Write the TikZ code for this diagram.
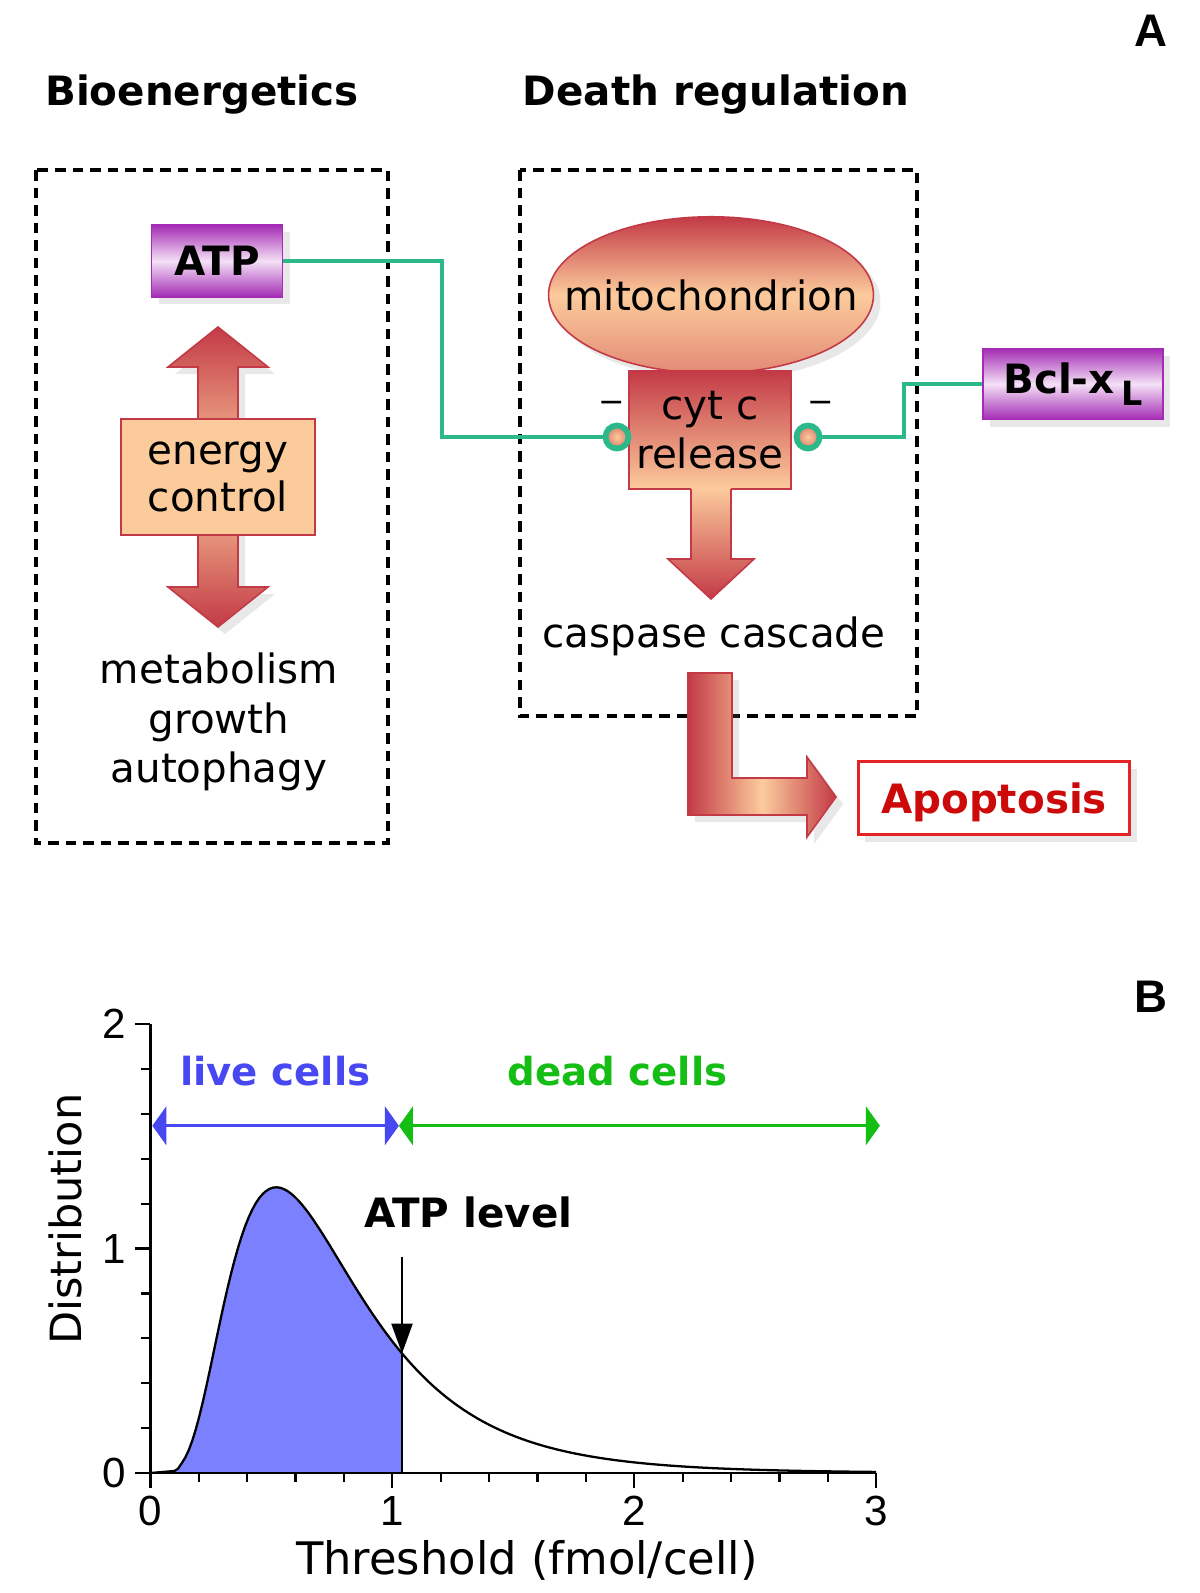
\documentclass[tikz,border=0pt]{standalone}
\usepackage{fontspec}
\setmainfont{DejaVu Sans}
\newfontfamily\plotfont{Liberation Sans}
\usepackage{tikz}
\usetikzlibrary{arrows.meta, positioning, shadows, shapes.geometric}

\definecolor{peach}{HTML}{FCCB9C}
\definecolor{brick}{HTML}{C33A46}
\definecolor{regpurple}{HTML}{A42CB4}
\definecolor{lilac}{HTML}{F4E0F6}
\definecolor{inhibgreen}{HTML}{2CB98A}
\definecolor{livecol}{HTML}{4848F2}
\definecolor{deadcol}{HTML}{14BE14}
\definecolor{livefill}{HTML}{7B80FF}
\definecolor{apored}{HTML}{E42424}
\definecolor{apotext}{HTML}{CC0A0A}

\tikzset{declare function={dens(\s)=exp(-(ln(\s)+0.378)*(ln(\s)+0.378)/0.551)/(\s*1.316);}}

\begin{document}
\begin{tikzpicture}[x=0.02cm, y=-0.02cm, font=\fontsize{23}{28}\selectfont]
    \tikzstyle{panel} = [draw, line width=2.2pt, dash pattern=on 6pt off 4pt]
    \tikzstyle{heading} = [font=\fontsize{23}{28}\selectfont\bfseries, anchor=base]
    \tikzstyle{letter} = [font=\fontsize{26}{30}\selectfont\plotfont\bfseries, anchor=base]
    \tikzstyle{softshadow} = [drop shadow={opacity=0.18, shadow xshift=4pt, shadow yshift=-4pt}]
    \tikzstyle{regulator} = [draw=regpurple, line width=1pt, top color=regpurple, bottom color=regpurple, middle color=lilac, font=\fontsize{23}{28}\selectfont\bfseries, softshadow]
    \tikzstyle{flesh} = [draw=brick, line width=0.9pt]
    \tikzstyle{inhib} = [draw=inhibgreen, line width=2.1pt]
    \tikzstyle{knob} = [circle, draw=inhibgreen, line width=3.3pt, inner color=peach, outer color=brick!55!peach, minimum size=0.46cm, inner sep=0pt]
    \useasboundingbox (0,0) rectangle (1200,1593);

    % panel A
    \node[letter] (panelA) at (1151,46) {A};
    \node[heading] (bioT) at (202,105) {Bioenergetics};
    \node[heading] (deathT) at (716,105) {Death regulation};
    \draw[panel] (36,170) rectangle (388,843);
    \draw[panel] (520,170) rectangle (917,716);

    \node[regulator, minimum width=2.62cm, minimum height=1.44cm] (atp) at (217,261) {ATP};
    \shadedraw[flesh, top color=brick, bottom color=brick, middle color=peach, softshadow] (218,327) -- (268,367) -- (238,367) -- (238,587) -- (268,587) -- (218,627) -- (168,587) -- (198,587) -- (198,367) -- (168,367) -- cycle;
    \node[flesh, fill=peach, minimum width=3.87cm, minimum height=2.32cm, align=center, font=\fontsize{23}{27}\selectfont] (energy) at (218,477) {energy\\control};
    \node[align=center, font=\fontsize{23}{28.3}\selectfont] (fates) at (219,722) {metabolism\\growth\\autophagy};

    \node[ellipse, flesh, top color=brick, bottom color=brick!45!peach, middle color=peach, minimum width=6.5cm, minimum height=3.13cm, inner sep=0pt, softshadow, label=center:{mitochondrion}] (mito) at (711,295) {};
    \node[flesh, top color=brick, bottom color=peach, minimum width=3.25cm, minimum height=2.36cm, align=center, font=\fontsize{23}{28.3}\selectfont] (cytc) at (710,430) {cyt c\\release};
    \path[top color=peach, bottom color=brick] (691,487.5) -- (691,559) -- (668,559) -- (711,599) -- (754,559) -- (731,559) -- (731,487.5) -- cycle;
    \draw[flesh] (691,489) -- (691,559) -- (668,559) -- (711,599) -- (754,559) -- (731,559) -- (731,489);
    \node[anchor=base] (caspase) at (714,647) {caspase cascade};

    \node[regulator, minimum width=3.6cm, minimum height=1.42cm] (bcl) at (1073,384) {Bcl-x\,\raisebox{-7pt}{\fontsize{19}{19}\selectfont L}};
    \coordinate (bendA) at (442,437);
    \coordinate (bendB) at (904,437);
    \node[knob] (kL) at (617,437) {};
    \node[knob] (kR) at (808,437) {};
    \draw[inhib] (atp.east) -| (bendA) -- (kL);
    \draw[inhib] (kR) -- (bendB) |- (bcl.west);
    \node[anchor=base, font=\fontsize{18}{20}\selectfont] (minusL) at (612,412) {−};
    \node[anchor=base, font=\fontsize{18}{20}\selectfont] (minusR) at (821,412) {−};

    \shadedraw[flesh, left color=brick, right color=brick, middle color=peach, softshadow] (688,673) -- (732,673) -- (732,778) -- (807,778) -- (807,757) -- (836,797) -- (807,837) -- (807,815) -- (688,815) -- cycle;
    \node[draw=apored, line width=1.7pt, fill=white, minimum width=5.44cm, minimum height=1.46cm, text depth=0pt, text=apotext, font=\fontsize{23}{28}\selectfont\bfseries, softshadow] (apo) at (994,798) {Apoptosis};

    % panel B
    \node[letter] (panelB) at (1151,1012) {B};
    \begin{scope}[shift={(150.4,1473)}, x=4.84cm, y=4.49cm]
        \tikzstyle{axis} = [line width=1.3pt]
        \tikzstyle{ticklab} = [font=\fontsize{24}{28}\selectfont\plotfont]
        \fill[livefill] (0,0) -- plot[domain=0.1:1.04, samples=80] (\x, {dens(\x)}) -- (1.04,0) -- cycle;
        \draw[line width=1.3pt] (0,0) -- plot[domain=0.1:3, samples=200] (\x, {dens(\x)});
        \coordinate (cutlow) at (1.04,0);
        \coordinate (cuthigh) at (1.04,{dens(1.04)});
        \draw[line width=1.3pt] (cutlow) -- (cuthigh);

        \draw[axis] (0,2) -- (0,0) -- (3,0);
        \foreach \t in {0.2,0.4,...,2.81} \draw[axis] (\t,0) -- ++(0,-0.18cm);
        \foreach \t in {0.2,0.4,...,1.81} \draw[axis] (0,\t) -- ++(-0.18cm,0);
        \foreach \t in {0,1,2,3} {
            \draw[axis] (\t,0) -- ++(0,-0.3cm);
            \node[ticklab, anchor=base] (xlab\t) at (\t,-0.236) {\t};
        }
        \foreach \t in {0,1,2} {
            \draw[axis] (0,\t) -- ++(-0.3cm,0);
            \node[ticklab, anchor=east] (ylab\t) at (-0.075,\t) {\t};
        }
        \node[rotate=90, anchor=base, font=\fontsize{24.5}{28}\selectfont] (ylabel) at (-0.285,1.131) {Distribution};
        \node[anchor=base, font=\fontsize{25.5}{30}\selectfont] (xlabel) at (1.556,-0.454) {Threshold (fmol/cell)};

        \coordinate (liveL) at (0.008,1.547);
        \coordinate (split) at (1.027,1.547);
        \coordinate (deadR) at (3.015,1.547);
        \draw[line width=1.6pt, livecol, {Triangle[length=8pt,width=22pt]}-{Triangle[length=8pt,width=22pt]}] (liveL) -- (split);
        \draw[line width=1.6pt, deadcol, {Triangle[length=8pt,width=22pt]}-{Triangle[length=8pt,width=22pt]}] (split) -- (deadR);
        \node[heading, text=livecol, font=\fontsize{22}{26}\selectfont\bfseries] (liveT) at (0.516,1.728) {live cells};
        \node[heading, text=deadcol, font=\fontsize{22}{26}\selectfont\bfseries] (deadT) at (1.931,1.728) {dead cells};
        \node[heading] (atplev) at (1.314,1.096) {ATP level};
        \coordinate (atptop) at (1.04,0.962);
        \draw[line width=1.2pt, -{Triangle[length=17pt,width=12pt]}] (atptop) -- (cuthigh);
    \end{scope}
\end{tikzpicture}
\end{document}
